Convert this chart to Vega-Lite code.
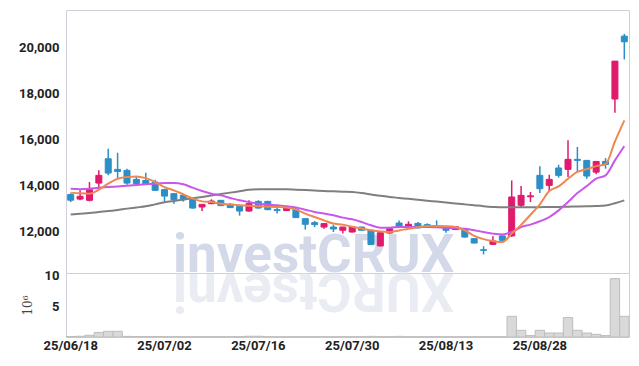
{
  "$schema": "https://vega.github.io/schema/vega-lite/v6.json",
  "background": "white",
  "padding": {"left": 18, "top": 9, "right": 9, "bottom": 8},
  "spacing": 0,
  "bounds": "flush",
  "config": {
    "view": {"stroke": "#cfd0d8", "strokeWidth": 1},
    "axis": {
      "gridColor": "#c3c6da",
      "gridDash": [2, 3],
      "gridWidth": 1,
      "ticks": false,
      "domain": false,
      "labelFont": "Roboto",
      "labelFontWeight": "bold",
      "labelFontSize": 13,
      "labelColor": "#222222",
      "labelPadding": 7
    }
  },
  "datasets": {
    "prices": [
      {"date": "25/06/18", "open": 13600, "high": 13650, "low": 13270, "close": 13350, "ma5": 13680, "ma10": 13850, "ma60": 12735, "volume": 0.08},
      {"date": "25/06/19", "open": 13400, "high": 13780, "low": 13345, "close": 13520, "ma5": 13650, "ma10": 13830, "ma60": 12765, "volume": 0.12},
      {"date": "25/06/20", "open": 13345, "high": 14140, "low": 13300, "close": 13810, "ma5": 13635, "ma10": 13850, "ma60": 12795, "volume": 0.28},
      {"date": "25/06/23", "open": 14095, "high": 14650, "low": 13850, "close": 14430, "ma5": 13810, "ma10": 13895, "ma60": 12840, "volume": 0.72},
      {"date": "25/06/24", "open": 15150, "high": 15590, "low": 14430, "close": 14530, "ma5": 14070, "ma10": 13920, "ma60": 12880, "volume": 0.93},
      {"date": "25/06/25", "open": 14690, "high": 15410, "low": 14285, "close": 14600, "ma5": 14285, "ma10": 13950, "ma60": 12930, "volume": 0.93},
      {"date": "25/06/26", "open": 14645, "high": 14720, "low": 14025, "close": 14095, "ma5": 14355, "ma10": 13980, "ma60": 12985, "volume": 0.1},
      {"date": "25/06/27", "open": 14255, "high": 14400, "low": 14050, "close": 14070, "ma5": 14385, "ma10": 14010, "ma60": 13035, "volume": 0.08},
      {"date": "25/06/30", "open": 14210, "high": 14545, "low": 14050, "close": 14070, "ma5": 14310, "ma10": 14040, "ma60": 13085, "volume": 0.08},
      {"date": "25/07/01", "open": 14140, "high": 14240, "low": 13750, "close": 13780, "ma5": 14140, "ma10": 14070, "ma60": 13170, "volume": 0.08},
      {"date": "25/07/02", "open": 13810, "high": 13850, "low": 13270, "close": 13530, "ma5": 13920, "ma10": 14095, "ma60": 13260, "volume": 0.06},
      {"date": "25/07/03", "open": 13635, "high": 13660, "low": 13200, "close": 13375, "ma5": 13780, "ma10": 14095, "ma60": 13320, "volume": 0.05},
      {"date": "25/07/04", "open": 13560, "high": 13635, "low": 13290, "close": 13375, "ma5": 13605, "ma10": 14040, "ma60": 13375, "volume": 0.05},
      {"date": "25/07/07", "open": 13375, "high": 13400, "low": 12990, "close": 13010, "ma5": 13420, "ma10": 13895, "ma60": 13430, "volume": 0.05},
      {"date": "25/07/08", "open": 13055, "high": 13170, "low": 12880, "close": 13170, "ma5": 13300, "ma10": 13750, "ma60": 13490, "volume": 0.05},
      {"date": "25/07/09", "open": 13200, "high": 13390, "low": 13180, "close": 13315, "ma5": 13270, "ma10": 13635, "ma60": 13560, "volume": 0.05},
      {"date": "25/07/10", "open": 13345, "high": 13360, "low": 13100, "close": 13115, "ma5": 13200, "ma10": 13560, "ma60": 13620, "volume": 0.05},
      {"date": "25/07/11", "open": 13170, "high": 13230, "low": 13010, "close": 13030, "ma5": 13160, "ma10": 13450, "ma60": 13680, "volume": 0.05},
      {"date": "25/07/14", "open": 13085, "high": 13100, "low": 12680, "close": 12880, "ma5": 13130, "ma10": 13345, "ma60": 13740, "volume": 0.05},
      {"date": "25/07/15", "open": 12880, "high": 13345, "low": 12860, "close": 13200, "ma5": 13105, "ma10": 13270, "ma60": 13800, "volume": 0.12},
      {"date": "25/07/16", "open": 13300, "high": 13345, "low": 12990, "close": 13010, "ma5": 13085, "ma10": 13200, "ma60": 13830, "volume": 0.12},
      {"date": "25/07/17", "open": 13300, "high": 13320, "low": 12920, "close": 12940, "ma5": 13070, "ma10": 13160, "ma60": 13830, "volume": 0.04},
      {"date": "25/07/18", "open": 12940, "high": 13055, "low": 12770, "close": 12900, "ma5": 13055, "ma10": 13130, "ma60": 13830, "volume": 0.04},
      {"date": "25/07/21", "open": 12900, "high": 13070, "low": 12880, "close": 13000, "ma5": 13030, "ma10": 13085, "ma60": 13830, "volume": 0.04},
      {"date": "25/07/22", "open": 12940, "high": 13010, "low": 12580, "close": 12595, "ma5": 12940, "ma10": 13030, "ma60": 13810, "volume": 0.04},
      {"date": "25/07/23", "open": 12550, "high": 12560, "low": 12075, "close": 12305, "ma5": 12770, "ma10": 12940, "ma60": 13790, "volume": 0.04},
      {"date": "25/07/24", "open": 12375, "high": 12450, "low": 12185, "close": 12290, "ma5": 12620, "ma10": 12840, "ma60": 13770, "volume": 0.04},
      {"date": "25/07/25", "open": 12185, "high": 12360, "low": 12115, "close": 12335, "ma5": 12475, "ma10": 12770, "ma60": 13750, "volume": 0.04},
      {"date": "25/07/28", "open": 12185, "high": 12290, "low": 11970, "close": 12100, "ma5": 12335, "ma10": 12695, "ma60": 13735, "volume": 0.04},
      {"date": "25/07/29", "open": 12045, "high": 12200, "low": 11900, "close": 12185, "ma5": 12290, "ma10": 12595, "ma60": 13720, "volume": 0.04},
      {"date": "25/07/30", "open": 11970, "high": 12200, "low": 11950, "close": 12185, "ma5": 12200, "ma10": 12520, "ma60": 13705, "volume": 0.04},
      {"date": "25/07/31", "open": 12185, "high": 12200, "low": 12030, "close": 12045, "ma5": 12120, "ma10": 12405, "ma60": 13660, "volume": 0.04},
      {"date": "25/08/01", "open": 12045, "high": 12060, "low": 11410, "close": 11425, "ma5": 12045, "ma10": 12260, "ma60": 13600, "volume": 0.1},
      {"date": "25/08/04", "open": 11365, "high": 11960, "low": 11350, "close": 11940, "ma5": 11990, "ma10": 12160, "ma60": 13540, "volume": 0.04},
      {"date": "25/08/05", "open": 11925, "high": 12180, "low": 11900, "close": 12115, "ma5": 11970, "ma10": 12160, "ma60": 13490, "volume": 0.04},
      {"date": "25/08/06", "open": 12360, "high": 12475, "low": 12170, "close": 12185, "ma5": 12040, "ma10": 12185, "ma60": 13450, "volume": 0.1},
      {"date": "25/08/07", "open": 12185, "high": 12435, "low": 12170, "close": 12305, "ma5": 12115, "ma10": 12185, "ma60": 13410, "volume": 0.04},
      {"date": "25/08/08", "open": 12345, "high": 12400, "low": 12130, "close": 12145, "ma5": 12180, "ma10": 12185, "ma60": 13370, "volume": 0.04},
      {"date": "25/08/11", "open": 12290, "high": 12345, "low": 12200, "close": 12215, "ma5": 12230, "ma10": 12185, "ma60": 13330, "volume": 0.04},
      {"date": "25/08/12", "open": 12230, "high": 12475, "low": 12150, "close": 12175, "ma5": 12230, "ma10": 12180, "ma60": 13290, "volume": 0.04},
      {"date": "25/08/13", "open": 12145, "high": 12160, "low": 11940, "close": 12045, "ma5": 12220, "ma10": 12160, "ma60": 13250, "volume": 0.04},
      {"date": "25/08/14", "open": 12075, "high": 12215, "low": 12060, "close": 12200, "ma5": 12185, "ma10": 12130, "ma60": 13210, "volume": 0.04},
      {"date": "25/08/18", "open": 12115, "high": 12130, "low": 11735, "close": 11750, "ma5": 12045, "ma10": 12115, "ma60": 13170, "volume": 0.04},
      {"date": "25/08/19", "open": 11680, "high": 11700, "low": 11480, "close": 11490, "ma5": 11800, "ma10": 12045, "ma60": 13130, "volume": 0.04},
      {"date": "25/08/20", "open": 11200, "high": 11350, "low": 11000, "close": 11175, "ma5": 11660, "ma10": 11970, "ma60": 13090, "volume": 0.04},
      {"date": "25/08/21", "open": 11435, "high": 11785, "low": 11420, "close": 11580, "ma5": 11580, "ma10": 11900, "ma60": 13060, "volume": 0.04},
      {"date": "25/08/22", "open": 11800, "high": 11810, "low": 11565, "close": 11610, "ma5": 11535, "ma10": 11860, "ma60": 13040, "volume": 0.04},
      {"date": "25/08/25", "open": 11800, "high": 14210, "low": 11760, "close": 13490, "ma5": 11900, "ma10": 11970, "ma60": 13040, "volume": 3.37},
      {"date": "25/08/26", "open": 13130, "high": 13965, "low": 13055, "close": 13560, "ma5": 12280, "ma10": 12185, "ma60": 13040, "volume": 1.09},
      {"date": "25/08/27", "open": 13500, "high": 13705, "low": 13270, "close": 13540, "ma5": 12720, "ma10": 12290, "ma60": 13045, "volume": 0.23},
      {"date": "25/08/28", "open": 14430, "high": 14820, "low": 13660, "close": 13850, "ma5": 13170, "ma10": 12435, "ma60": 13050, "volume": 1.09},
      {"date": "25/08/29", "open": 13995, "high": 14460, "low": 13750, "close": 14255, "ma5": 13750, "ma10": 12620, "ma60": 13055, "volume": 0.65},
      {"date": "25/09/01", "open": 14750, "high": 14890, "low": 14330, "close": 14430, "ma5": 13950, "ma10": 12910, "ma60": 13060, "volume": 0.65},
      {"date": "25/09/02", "open": 14690, "high": 15950, "low": 14355, "close": 15125, "ma5": 14285, "ma10": 13270, "ma60": 13070, "volume": 3.16},
      {"date": "25/09/03", "open": 15125, "high": 15660, "low": 14570, "close": 15080, "ma5": 14580, "ma10": 13660, "ma60": 13080, "volume": 1.09},
      {"date": "25/09/04", "open": 15080, "high": 15100, "low": 14285, "close": 14400, "ma5": 14700, "ma10": 13965, "ma60": 13090, "volume": 0.65},
      {"date": "25/09/05", "open": 14570, "high": 15035, "low": 14475, "close": 15035, "ma5": 14830, "ma10": 14285, "ma60": 13100, "volume": 0.44},
      {"date": "25/09/08", "open": 15035, "high": 15180, "low": 14720, "close": 14905, "ma5": 14910, "ma10": 14430, "ma60": 13120, "volume": 0.23},
      {"date": "25/09/09", "open": 17745, "high": 19400, "low": 17150, "close": 19390, "ma5": 15900, "ma10": 15080, "ma60": 13220, "volume": 9.5},
      {"date": "25/09/10", "open": 20475, "high": 20575, "low": 19465, "close": 20230, "ma5": 16815, "ma10": 15700, "ma60": 13345, "volume": 3.37}
    ],
    "mark": [
      {"label": "investCRUX", "mirror": "XURCtsevni", "date": "25/07/24"}
    ]
  },
  "vconcat": [
    {
      "width": 563,
      "height": 263,
      "layer": [
        {
          "data": {"name": "mark"},
          "mark": {"type": "text", "font": "Roboto", "fontWeight": "bold", "fontSize": 53, "color": "#d4d9e9", "align": "center", "baseline": "alphabetic", "dx": -1, "clip": true},
          "encoding": {
            "x": {"field": "date", "type": "ordinal"},
            "y": {"datum": 10240, "type": "quantitative"},
            "text": {"field": "label"}
          }
        },
        {
          "data": {"name": "prices"},
          "mark": {"type": "rule", "strokeWidth": 1.5},
          "encoding": {
            "x": {
              "field": "date", "type": "ordinal",
              "scale": {"paddingInner": 0, "paddingOuter": 0},
              "axis": {"labels": false, "title": null, "bandPosition": 0.5, "minExtent": 0, "maxExtent": 0,
                "values": ["25/06/18", "25/07/02", "25/07/16", "25/07/30", "25/08/13", "25/08/28"]}
            },
            "y": {
              "field": "low", "type": "quantitative",
              "scale": {"domain": [10190, 21610], "nice": false, "zero": false},
              "axis": {"values": [12000, 14000, 16000, 18000, 20000], "format": ",d", "title": null}
            },
            "y2": {"field": "high"},
            "color": {"condition": {"test": "datum.close >= datum.open", "value": "#e01a6c"}, "value": "#2b8fc7"}
          }
        },
        {
          "data": {"name": "prices"},
          "mark": {"type": "bar", "size": 6, "strokeWidth": 1},
          "encoding": {
            "x": {"field": "date", "type": "ordinal"},
            "y": {"field": "open", "type": "quantitative"},
            "y2": {"field": "close"},
            "fill": {"condition": {"test": "datum.close >= datum.open", "value": "#e01a6c"}, "value": "#2b8fc7"},
            "stroke": {"condition": {"test": "datum.close >= datum.open", "value": "#e01a6c"}, "value": "#2b8fc7"}
          }
        },
        {
          "data": {"name": "prices"},
          "mark": {"type": "line", "color": "#7f7f7f", "strokeWidth": 2, "interpolate": "monotone"},
          "encoding": {"x": {"field": "date", "type": "ordinal"}, "y": {"field": "ma60", "type": "quantitative"}}
        },
        {
          "data": {"name": "prices"},
          "mark": {"type": "line", "color": "#c857ea", "strokeWidth": 2, "interpolate": "monotone"},
          "encoding": {"x": {"field": "date", "type": "ordinal"}, "y": {"field": "ma10", "type": "quantitative"}}
        },
        {
          "data": {"name": "prices"},
          "mark": {"type": "line", "color": "#ef8752", "strokeWidth": 2, "interpolate": "monotone"},
          "encoding": {"x": {"field": "date", "type": "ordinal"}, "y": {"field": "ma5", "type": "quantitative"}}
        }
      ]
    },
    {
      "width": 563,
      "height": 64,
      "layer": [
        {
          "data": {"name": "mark"},
          "mark": {"type": "text", "font": "Roboto", "fontWeight": "bold", "fontSize": 53, "color": "#eaecf4", "align": "center", "baseline": "alphabetic", "angle": 180, "dx": 1, "clip": true},
          "encoding": {
            "x": {"field": "date", "type": "ordinal"},
            "y": {"datum": 10.2, "type": "quantitative"},
            "text": {"field": "mirror"}
          }
        },
        {
          "data": {"name": "prices"},
          "mark": {"type": "bar", "fill": "#d9d9d9", "stroke": "#bdbdbd", "strokeWidth": 1},
          "encoding": {
            "x": {
              "field": "date", "type": "ordinal",
              "scale": {"paddingInner": 0, "paddingOuter": 0},
              "axis": {"title": null, "labelAngle": 0, "labelAlign": "center", "bandPosition": 0.5, "labelPadding": 8,
                "values": ["25/06/18", "25/07/02", "25/07/16", "25/07/30", "25/08/13", "25/08/28"]}
            },
            "y": {
              "field": "volume", "type": "quantitative",
              "scale": {"domain": [0, 10.42], "nice": false},
              "axis": {"values": [5, 10], "format": "d", "title": "10⁶", "titleFont": "DejaVu Serif", "titleFontWeight": "normal", "titleFontSize": 12, "titleColor": "#444444", "titlePadding": 10}
            }
          }
        }
      ]
    }
  ]
}
